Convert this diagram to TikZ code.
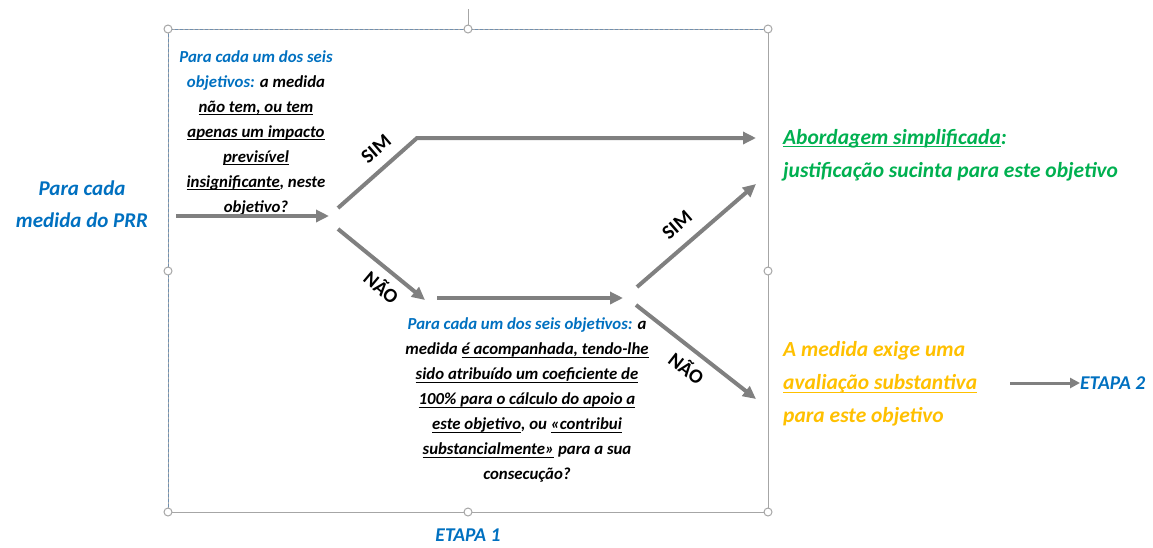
\documentclass[tikz,border=0pt]{standalone}
\usepackage{fontspec}
\setmainfont{Carlito}
\usetikzlibrary{arrows.meta}
\definecolor{cblue}{HTML}{0070C0}
\definecolor{cgreen}{HTML}{00B050}
\definecolor{corange}{HTML}{FFC000}
\definecolor{cgray}{HTML}{808080}
\definecolor{fgray}{HTML}{A6A6A6}
\definecolor{fdash}{HTML}{6F8FB0}
\newcommand\myul[1]{\setbox0\hbox{#1}\rlap{\rule[-3pt]{\wd0}{1pt}}\box0\relax}
\begin{document}
\begin{tikzpicture}[x=1pt,y=-1pt,
  flow/.style={draw=cgray,line width=4pt,-{Triangle[length=13pt,width=12pt]}},
  thinflow/.style={draw=cgray,line width=3pt,-{Triangle[length=10pt,width=10pt]}},
  lbl/.style={font=\fontsize{20}{22}\selectfont\bfseries,inner sep=0pt},
  handle/.style={circle,draw=fgray,fill=white,line width=1pt,inner sep=0pt,minimum size=8pt},
  qtext/.style={align=center,inner sep=0pt,font=\fontsize{16.8}{25}\selectfont\bfseries\itshape},
  outtext/.style={align=left,anchor=west,inner sep=0pt,font=\fontsize{21.5}{33}\selectfont\bfseries\itshape},
  stage/.style={inner sep=0pt,text=cblue,font=\fontsize{19.5}{22}\selectfont\bfseries\itshape},
  frameline/.style={draw=fgray,line width=1pt},
  framedash/.style={draw=fdash,line width=1pt,dash pattern=on 3pt off 2pt}
]
\useasboundingbox (0,0) rectangle (1153,547);

% frame (selection box)
\coordinate (tl) at (168,29);
\coordinate (tm) at (468,29);
\coordinate (tr) at (768,29);
\coordinate (ml) at (168,271);
\coordinate (mr) at (768,271);
\coordinate (bl) at (168,512);
\coordinate (bm) at (468,512);
\coordinate (br) at (768,512);
\coordinate (rot) at (468,9);
\draw[frameline] (tl) -- (tr) -- (br) -- (bl) -- cycle;
\draw[framedash] (bl) -- (tl) -- (tr);
\draw[frameline] (rot) -- (tm);
\foreach \h in {tl,tm,tr,ml,mr,bl,bm,br}
  \node[handle] at (\h) {};

% texts
\node[align=center,inner sep=0pt,text=cblue,font=\fontsize{21}{32}\selectfont\bfseries\itshape] (start) at (82,204) {Para cada\\medida do PRR};

\node[qtext] (q1) at (256,133) {%
{\color{cblue}Para cada um dos seis}\\
{\color{cblue}objetivos:} a medida\\
\myul{não tem, ou tem}\\
\myul{apenas um impacto}\\
\myul{previsível}\\
\myul{insignificante}, neste\\
objetivo?};

\node[qtext] (q2) at (527,400) {%
{\color{cblue}Para cada um dos seis objetivos:} a\\
medida \myul{é acompanhada, tendo-lhe}\\
\myul{sido atribuído um coeficiente de}\\
\myul{100\% para o cálculo do apoio a}\\
\myul{este objetivo}, ou \myul{«contribui}\\
\myul{substancialmente»} para a sua\\
consecução?};

\node[outtext,text=cgreen] (simp) at (783,155) {%
\myul{Abordagem simplificada}:\\
justificação sucinta para este objetivo};

\node[outtext,text=corange] (subst) at (783,384) {%
A medida exige uma\\
\myul{avaliação substantiva}\\
para este objetivo};

\node[stage,anchor=west] (etapa2) at (1080,383) {ETAPA 2};
\node[stage] (etapa1) at (468,535) {ETAPA 1};

% arrows
\coordinate (inS) at (176,216);
\coordinate (inE) at (329,216);
\coordinate (s1a) at (338,208);
\coordinate (s1b) at (417,138);
\coordinate (s1c) at (756,138);
\coordinate (n1a) at (338,229);
\coordinate (n1b) at (425,300);
\coordinate (mA) at (437,298);
\coordinate (mB) at (623,298);
\coordinate (s2a) at (637,287);
\coordinate (s2b) at (756,184);
\coordinate (n2a) at (636,305);
\coordinate (n2b) at (756,399);
\coordinate (e2) at (1010,383);

\draw[flow] (inS) -- (inE);
\draw[flow] (s1a) -- (s1b) -- (s1c);
\draw[flow] (n1a) -- (n1b);
\draw[flow] (mA) -- (mB);
\draw[flow] (s2a) -- (s2b);
\draw[flow] (n2a) -- (n2b);
\draw[thinflow] (e2) -- (etapa2.west);

% branch labels
\node[lbl,rotate=41] (sim1) at (376,149) {SIM};
\node[lbl,rotate=-40] (nao1) at (382,287) {NÃO};
\node[lbl,rotate=41] (sim2) at (677,225) {SIM};
\node[lbl,rotate=-38] (nao2) at (687,368) {NÃO};
\end{tikzpicture}
\end{document}
